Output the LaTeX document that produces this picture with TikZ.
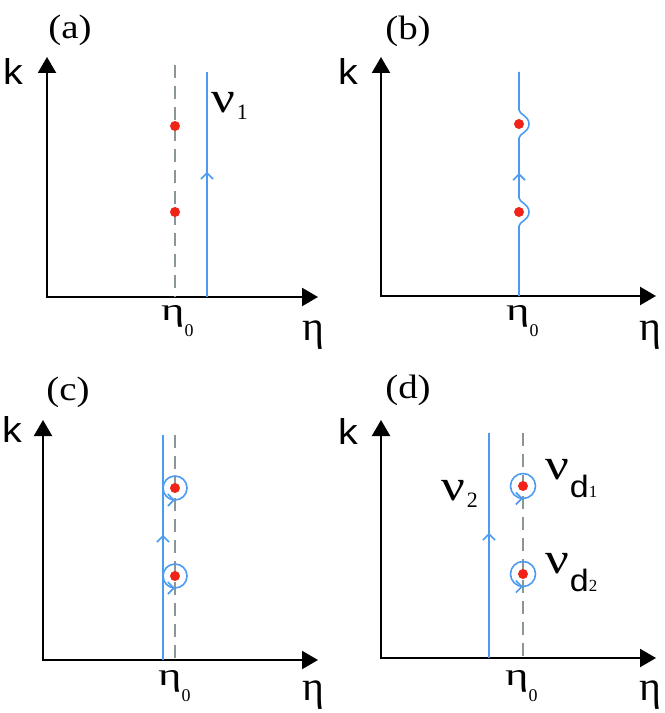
\documentclass[tikz,border=0pt]{standalone}
\usepackage{graphicx}
\usepackage{fontspec}
\setmainfont{Liberation Serif}
\newfontfamily\lsans{Liberation Sans}
\usetikzlibrary{arrows.meta,decorations.markings}
\definecolor{cblue}{RGB}{76,155,240}
\definecolor{cred}{RGB}{240,35,25}
\definecolor{cgray}{RGB}{140,150,150}
\tikzset{
  axisline/.style={line width=2.2bp,black,line join=miter,
     {Triangle[length=16bp,width=18bp]}-{Triangle[length=16bp,width=18bp]}},
  guide/.style={cgray,line width=1.6bp,dash pattern=on 13bp off 8bp},
  contour/.style={cblue,line width=1.6bp},
  uparrow/.style={postaction={decorate},decoration={markings,
     mark=at position #1 with {\arrow{Straight Barb[length=6bp,width=12bp]}}}},
  pole/.style={circle,fill=cred,inner sep=0pt,minimum size=10bp},
  panel/.style={inner sep=0pt,font=\fontsize{34}{34}\selectfont},
  klabel/.style={inner sep=0pt,font=\lsans\fontsize{36}{36}\selectfont},
  etalabel/.style={inner sep=0pt,anchor=base,font=\fontsize{42}{42}\selectfont},
  etazero/.style={inner sep=0pt,anchor=base west,font=\fontsize{32}{32}\selectfont},
  nulabel/.style={inner sep=0pt,anchor=base west,font=\fontsize{44}{44}\selectfont},
}
\newcommand{\stretchx}[2]{\scalebox{#1}[1]{#2}}
\newcommand{\etanought}{\stretchx{1.4}{η}\raisebox{-16bp}{\fontsize{18}{18}\selectfont 0}}
\newcommand{\nusub}[1]{\stretchx{1.2}{ν}\kern2bp\raisebox{-7bp}{\fontsize{22}{22}\selectfont #1}}
\newcommand{\nud}[1]{\stretchx{1.2}{ν}\kern1bp\raisebox{-18bp}{\lsans\fontsize{31}{31}\selectfont \stretchx{1.1}{d}}\raisebox{-18bp}{\fontsize{17}{17}\selectfont #1}}
\begin{document}
\begin{tikzpicture}[x=1bp,y=-1bp]
\useasboundingbox (0,0) rectangle (665,713);
% ---------------- (a)
\draw[axisline] (47,57) |- (318,297);
\draw[guide] (175,65) -- (175,297);
\draw[contour,uparrow=0.556] (207,297) -- (207,72);
\node[pole] (a1) at (175,126) {};
\node[pole] (a2) at (175,212) {};
\node[panel] (la) at (70,30) {\stretchx{1.15}{(a)}};
\node[klabel] (ka) at (13,72) {\stretchx{1.1}{k}};
\node[nulabel] (nua) at (211,113) {\nusub{1}};
\node[etazero] (e0a) at (161,320) {\etanought};
\node[etalabel] (ea) at (313,340) {η};
% ---------------- (b)
\draw[axisline] (381,57) |- (656,296);
\draw[contour] (519,296) -- (519,226)
   .. controls (519,222) and (529,220) .. (529,212)
   .. controls (529,204) and (519,202) .. (519,198)
   -- (519,138)
   .. controls (519,134) and (529,132) .. (529,124)
   .. controls (529,116) and (519,114) .. (519,110)
   -- (519,72);
\draw[contour,-{Straight Barb[length=6bp,width=12bp]}] (519,181) -- (519,173);
\node[pole] (b1) at (519,124) {};
\node[pole] (b2) at (519,212) {};
\node[panel] (lb) at (408,31) {\stretchx{1.15}{(b)}};
\node[klabel] (kb) at (348,72) {\stretchx{1.1}{k}};
\node[etazero] (e0b) at (506,320) {\etanought};
\node[etalabel] (eb) at (650,340) {η};
% ---------------- (c)
\draw[axisline] (43,420) |- (318,660);
\draw[guide] (175,435) -- (175,660);
\draw[contour,uparrow=0.556] (163,660) -- (163,435);
\draw[contour,uparrow=0.25] (175,488) ++(180:12) arc[start angle=180,end angle=-180,radius=12];
\draw[contour,uparrow=0.25] (175,576) ++(180:12) arc[start angle=180,end angle=-180,radius=12];
\node[pole] (c1) at (175,488) {};
\node[pole] (c2) at (175,576) {};
\node[panel] (lc) at (68,392) {\stretchx{1.15}{(c)}};
\node[klabel] (kc) at (12,430) {\stretchx{1.1}{k}};
\node[etazero] (e0c) at (158,685) {\etanought};
\node[etalabel] (ec) at (313,700) {η};
% ---------------- (d)
\draw[axisline] (381,420) |- (656,658);
\draw[guide] (523,433) -- (523,658);
\draw[contour,uparrow=0.556] (489,658) -- (489,433);
\draw[contour,uparrow=0.25] (523,486) ++(180:12.5) arc[start angle=180,end angle=-180,radius=12.5];
\draw[contour,uparrow=0.25] (523,574) ++(180:12.5) arc[start angle=180,end angle=-180,radius=12.5];
\node[pole] (d1) at (523,486) {};
\node[pole] (d2) at (523,574) {};
\node[panel] (ld) at (408,390) {\stretchx{1.15}{(d)}};
\node[klabel] (kd) at (348,432) {\stretchx{1.1}{k}};
\node[nulabel] (nu2) at (441,500) {\nusub{2}};
\node[nulabel] (nud1) at (545,479) {\nud{1}};
\node[nulabel] (nud2) at (545,573) {\nud{2}};
\node[etazero] (e0d) at (505,685) {\etanought};
\node[etalabel] (ed) at (650,700) {η};
\end{tikzpicture}
\end{document}
